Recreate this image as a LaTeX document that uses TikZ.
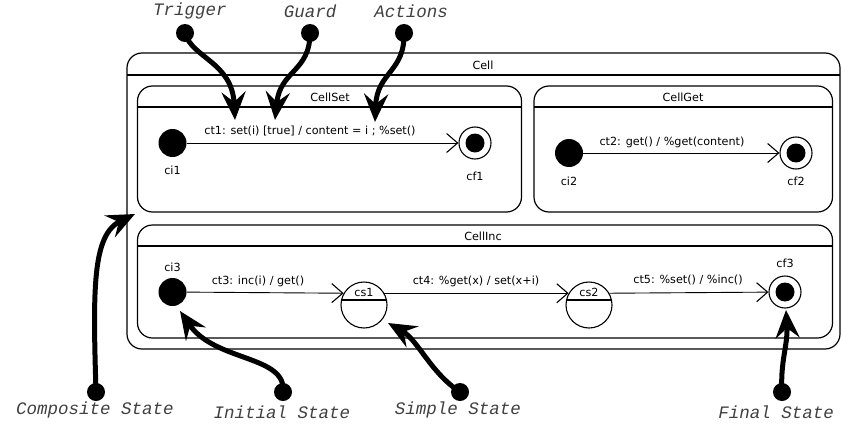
\documentclass[tikz,border=0pt]{standalone}
\usepackage{fontspec}
\setmainfont{DejaVu Sans}
\newfontfamily\annfont{Liberation Mono}
\usetikzlibrary{arrows.meta,calc}
\tikzset{
  box/.style={draw, line width=1.2pt, rounded corners=15pt},
  hdr/.style={draw, line width=1.2pt},
  lbl/.style={font=\fontsize{11.2}{13}\selectfont, inner sep=0pt},
  initst/.style={circle, fill=black, minimum size=28pt, inner sep=0pt},
  finalst/.style={circle, draw, line width=1.1pt, minimum size=32pt, inner sep=0pt,
    path picture={\fill (path picture bounding box.center) circle (9.5pt);}},
  simplest/.style={circle, draw, line width=1.1pt, minimum size=46pt, inner sep=0pt,
    path picture={\draw[line width=1.1pt] ($(path picture bounding box.center)+(-30pt,5pt)$) -- ++(60pt,0);}},
  trans/.style={line width=0.9pt, -{Straight Barb[length=11pt,width=19pt,line width=1.1pt]}},
  ann/.style={line width=5pt, line cap=round, -{Stealth[length=28pt 0 0,width=24pt 0,inset=10pt 0]}},
  anndot/.style={circle, fill=black, minimum size=18pt, inner sep=0pt},
  anntext/.style={font=\annfont\itshape\fontsize{17.5}{20}\selectfont, text=black!75, inner sep=0pt}
}
\begin{document}
\begin{tikzpicture}[x=1pt,y=-1pt]
\useasboundingbox (0,0) rectangle (842,428);
% Cell
\draw[box] (127,53) rectangle (840,349);
\draw[hdr] (127,75) -- (840,75);
\node[lbl] (tcell) at (483,65) {Cell};
% CellSet
\draw[box] (137.5,86) rectangle (521.5,212);
\draw[hdr] (137.5,107) -- (521.5,107);
\node[lbl] (tset) at (330,97) {CellSet};
% CellGet
\draw[box] (534,86) rectangle (832.5,212);
\draw[hdr] (534,107) -- (832.5,107);
\node[lbl] (tget) at (683,97) {CellGet};
% CellInc
\draw[box] (137.5,225) rectangle (832.5,338);
\draw[hdr] (137.5,246) -- (832.5,246);
\node[lbl] (tinc) at (483,236) {CellInc};

% states
\node[initst] (ci1) at (172.5,143) {};
\node[lbl] (lci1) at (172.5,170) {ci1};
\node[finalst] (cf1) at (475,143) {};
\node[lbl] (lcf1) at (475,176) {cf1};
\node[initst] (ci2) at (569,153) {};
\node[lbl] (lci2) at (569,181) {ci2};
\node[finalst] (cf2) at (796,153) {};
\node[lbl] (lcf2) at (796,181) {cf2};
\node[initst] (ci3) at (172.5,292) {};
\node[lbl] (lci3) at (172.5,267) {ci3};
\node[simplest] (cs1) at (364,305) {};
\node[lbl] (lcs1) at (364,292) {cs1};
\node[simplest] (cs2) at (589,305) {};
\node[lbl] (lcs2) at (589,292) {cs2};
\node[finalst] (cf3) at (785,292) {};
\node[lbl] (lcf3) at (785,263) {cf3};

% transitions
\draw[trans] (ci1) -- (cf1);
\node[lbl] (ct1) at (310,131) {ct1: set(i) [true] / content = i ; \%set()};
\draw[trans] (ci2) -- (cf2);
\node[lbl] (ct2) at (672,142) {ct2: get() / \%get(content)};
\draw[trans] (ci3) -- (cs1.150);
\node[lbl] (ct3) at (258,281) {ct3: inc(i) / get()};
\draw[trans] (cs1.30) -- (cs2.150);
\node[lbl] (ct4) at (476,281) {ct4: \%get(x) / set(x+i)};
\draw[trans] (cs2.30) -- (cf3);
\node[lbl] (ct5) at (688,280) {ct5: \%set() / \%inc()};

% annotations
\node[anntext] (aTrig) at (190,11) {Trigger};
\node[anntext] (aGuard) at (310,11) {Guard};
\node[anntext] (aAct) at (411,11) {Actions};
\node[anndot] (dTrig) at (185,33) {};
\node[anndot] (dGuard) at (310,33) {};
\node[anndot] (dAct) at (404,33) {};
\coordinate (pTrig) at (235,120);
\coordinate (pGuard) at (275,120);
\coordinate (pAct) at (375,122);
\draw[ann] (dTrig.center) .. controls (192,58) and (232,62) .. (pTrig);
\draw[ann] (dGuard.center) .. controls (310,72) and (280,70) .. (pGuard);
\draw[ann] (dAct.center) .. controls (405,72) and (377,72) .. (pAct);

\node[anntext] (aComp) at (95,410) {Composite State};
\node[anntext] (aInit) at (282,412) {Initial State};
\node[anntext] (aSimp) at (458,410) {Simple State};
\node[anntext] (aFin) at (776,412) {Final State};
\node[anndot] (dComp) at (96,392) {};
\node[anndot] (dInit) at (283,392) {};
\node[anndot] (dSimp) at (460,392) {};
\node[anndot] (dFin) at (782,392) {};
\coordinate (pComp) at (135,214);
\coordinate (pInit) at (180,311);
\coordinate (pSimp) at (388,323);
\coordinate (pFin) at (786,310);
\draw[ann] (dComp.center) .. controls (93,290) and (92,235) .. (pComp);
\draw[ann] (dInit.center) .. controls (287,355) and (215,362) .. (pInit);
\draw[ann] (dSimp.center) .. controls (430,372) and (418,340) .. (pSimp);
\draw[ann] (dFin.center) .. controls (780,362) and (788,345) .. (pFin);
\end{tikzpicture}
\end{document}
